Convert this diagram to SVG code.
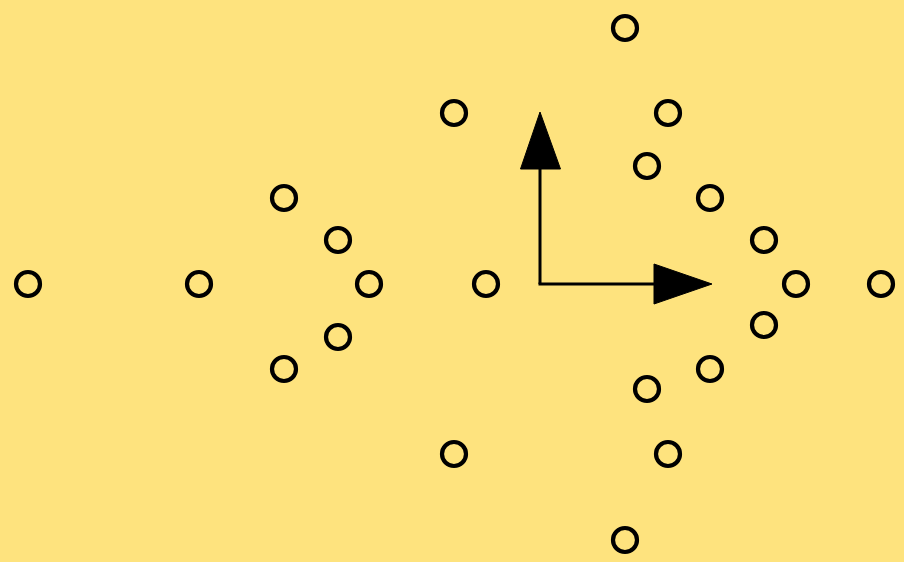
<svg xmlns="http://www.w3.org/2000/svg" width="904" height="562" viewBox="0 0 904 562">
<style>
.p{fill:none;stroke:#000;stroke-width:4.2}
.c{fill:none;stroke:#000;stroke-width:3}
.h{fill:#000;stroke:#000;stroke-width:1;stroke-linejoin:round}
</style>
<rect width="904" height="562" fill="#FEE37E"/>
<g id="connectors">
<line class="c" x1="540" y1="284" x2="540" y2="168"/>
<polygon class="h" points="540,112 520.5,169 560.5,169"/>
<line class="c" x1="538.5" y1="284" x2="656" y2="284"/>
<polygon class="h" points="712,284 654,264 654,304"/>
</g>
<g id="n1"><circle class="p" cx="28" cy="284" r="12"/></g>
<g id="n2"><circle class="p" cx="199" cy="284" r="12"/></g>
<g id="n3"><circle class="p" cx="284" cy="198" r="12"/></g>
<g id="n4"><circle class="p" cx="338" cy="240" r="12"/></g>
<g id="n5"><circle class="p" cx="369" cy="284" r="12"/></g>
<g id="n6"><circle class="p" cx="338" cy="337" r="12"/></g>
<g id="n7"><circle class="p" cx="284" cy="369" r="12"/></g>
<g id="n8"><circle class="p" cx="454" cy="113" r="12"/></g>
<g id="n9"><circle class="p" cx="486" cy="284" r="12"/></g>
<g id="n10"><circle class="p" cx="454" cy="454" r="12"/></g>
<g id="n11"><circle class="p" cx="625" cy="28" r="12"/></g>
<g id="n12"><circle class="p" cx="668" cy="113" r="12"/></g>
<g id="n13"><circle class="p" cx="647" cy="166" r="12"/></g>
<g id="n14"><circle class="p" cx="710" cy="198" r="12"/></g>
<g id="n15"><circle class="p" cx="764" cy="240" r="12"/></g>
<g id="n16"><circle class="p" cx="796" cy="284" r="12"/></g>
<g id="n17"><circle class="p" cx="881" cy="284" r="12"/></g>
<g id="n18"><circle class="p" cx="764" cy="325" r="12"/></g>
<g id="n19"><circle class="p" cx="710" cy="369" r="12"/></g>
<g id="n20"><circle class="p" cx="647" cy="389" r="12"/></g>
<g id="n21"><circle class="p" cx="668" cy="454" r="12"/></g>
<g id="n22"><circle class="p" cx="625" cy="540" r="12"/></g>
</svg>
